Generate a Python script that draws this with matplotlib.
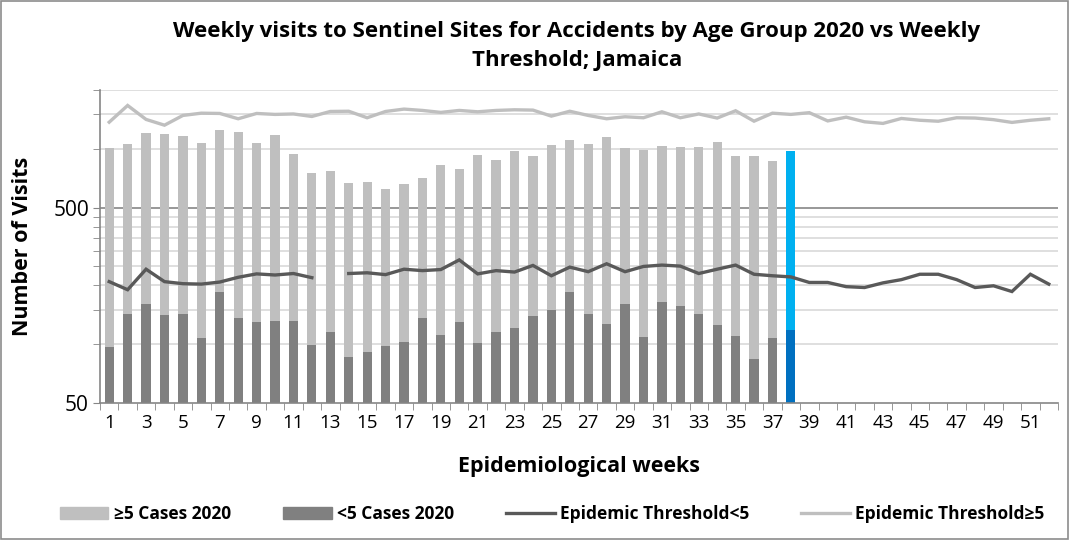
import numpy as np
import matplotlib
matplotlib.use('Agg')
import matplotlib.pyplot as plt
from matplotlib.ticker import FixedLocator, NullFormatter, FixedFormatter
from matplotlib.patches import Rectangle
from matplotlib.lines import Line2D

plt.rcParams['font.family'] = ['Open Sans', 'DejaVu Sans']

# data
weeks = list(range(1, 53))
under5_2020 = [97, 142, 160, 141, 143, 108, 184, 136, 130, 132, 132, 99, 116, 86, 91, 98, 103, 136, 111,
               130, 102, 115, 121, 140, 150, 185, 143, 127, 161, 109, 165, 157, 143, 126, 110, 84, 107, 118]
over5_2020 = [907, 922, 1042, 1053, 1017, 966, 1057, 1081, 938, 1048, 814, 651, 658, 586, 589, 525, 561, 574,
              720, 659, 829, 760, 859, 780, 890, 931, 921, 1019, 843, 882, 863, 867, 876, 952, 804, 836, 762, 851]
thresh_under5 = [209, 190, 242, 209, 204, 203, 208, 220, 229, 226, 230, 219, np.nan, 230, 232, 227, 242, 238,
                 241, 270, 229, 238, 234, 253, 224, 248, 235, 258, 235, 250, 254, 251, 230, 242, 254, 228,
                 224, 221, 207, 207, 197, 195, 206, 214, 228, 228, 214, 195, 199, 186, 228, 203]
thresh_over5 = [1369, 1667, 1414, 1321, 1482, 1522, 1517, 1425, 1517, 1500, 1508, 1464, 1553, 1557, 1442,
                1553, 1597, 1572, 1536, 1572, 1547, 1572, 1584, 1578, 1470, 1557, 1482, 1425, 1459, 1442,
                1547, 1442, 1508, 1437, 1566, 1385, 1522, 1500, 1531, 1389, 1452, 1375, 1349, 1430, 1400,
                1384, 1442, 1437, 1410, 1365, 1400, 1425]

title = 'Weekly visits to Sentinel Sites for Accidents by Age Group 2020 vs Weekly\nThreshold; Jamaica'

fig = plt.figure(figsize=(10.69, 5.40), dpi=100)
fig.patches.append(Rectangle((0.001, 0.001), 0.998, 0.997, transform=fig.transFigure,
                             fill=False, edgecolor='#8c8c8c', lw=1.2))
ax = fig.add_axes([100 / 1069, 137 / 540, 958 / 1069, 313 / 540])

n = len(under5_2020)
xb = np.array(weeks[:n])
c_low = ['#808080'] * n
c_up = ['#bfbfbf'] * n
c_low[-1] = '#0070c0'
c_up[-1] = '#00b0f0'
ax.bar(xb, under5_2020, width=0.5, color=c_low, zorder=2)
ax.bar(xb, over5_2020, width=0.5, bottom=under5_2020, color=c_up, zorder=2)
ax.plot(weeks, thresh_under5, color='#595959', lw=2.4, zorder=3, solid_joinstyle='miter')
ax.plot(weeks, thresh_over5, color='#bfbfbf', lw=2.4, zorder=3, solid_joinstyle='miter')

ax.set_yscale('log')
ax.set_ylim(50, 2000)
ax.set_xlim(0.5, 52.5)

ax.yaxis.set_major_locator(FixedLocator([50, 500]))
ax.yaxis.set_major_formatter(FixedFormatter(['50', '500']))
minor_y = list(range(100, 500, 50)) + [1000, 1500, 2000]
ax.yaxis.set_minor_locator(FixedLocator(minor_y))
ax.yaxis.set_minor_formatter(NullFormatter())
ax.grid(True, which='minor', axis='y', color='#d9d9d9', lw=1.2, zorder=0)
ax.axhline(500, color='#868686', lw=1.2, zorder=1)

ax.xaxis.set_major_locator(FixedLocator(weeks[::2]))
ax.xaxis.set_major_formatter(FixedFormatter([str(w) for w in weeks[::2]]))
ax.xaxis.set_minor_locator(FixedLocator(np.arange(0.5, 53, 1)))
ax.tick_params(axis='x', which='major', length=0, labelsize=13.5, pad=8)
ax.tick_params(axis='x', which='minor', length=5, color='#868686', direction='out')
ax.tick_params(axis='y', which='both', length=5, color='#868686', direction='out', labelsize=15, pad=3)

for s in ['top', 'right']:
    ax.spines[s].set_visible(False)
for s in ['left', 'bottom']:
    ax.spines[s].set_color('#868686')
    ax.spines[s].set_linewidth(1.2)

ax.set_xlabel('Epidemiological weeks', fontsize=15.5, fontweight='bold', labelpad=17)
ax.set_ylabel('Number of Visits', fontsize=15.5, fontweight='bold')
ax.yaxis.set_label_coords(-67 / 958, 0.5)
fig.text(577 / 1069, 1 - 46 / 540, title, ha='center', va='center', fontsize=16,
         fontweight='bold', linespacing=1.45)

handles = [Rectangle((0, 0), 1, 1, color='#bfbfbf'),
           Rectangle((0, 0), 1, 1, color='#808080'),
           Line2D([], [], color='#595959', lw=2.4),
           Line2D([], [], color='#bfbfbf', lw=2.4)]
labels = ['≥5 Cases 2020', '<5 Cases 2020', 'Epidemic Threshold<5', 'Epidemic Threshold≥5']
fig.legend(handles, labels, loc='center', bbox_to_anchor=(552 / 1069, 1 - 514 / 540), ncol=4,
           frameon=False, prop={'weight': 'bold', 'size': 12.5}, columnspacing=3.0,
           handlelength=2.8, handletextpad=0.3)

plt.savefig('out.png', dpi=100)
